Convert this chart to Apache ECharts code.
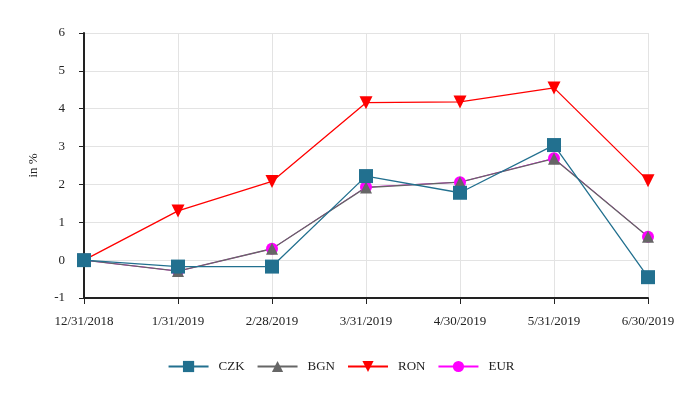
<!DOCTYPE html>
<html><head><meta charset="utf-8">
<script src="https://cdn.jsdelivr.net/npm/echarts@6/dist/echarts.min.js"></script>
<style>html,body{margin:0;padding:0;background:#fff}#c{width:682px;height:400px}</style>
</head><body><div id="c"></div>
<script>
const categories = ['12/31/2018','1/31/2019','2/28/2019','3/31/2019','4/30/2019','5/31/2019','6/30/2019'];
const czk = [0, -0.17, -0.17, 2.22, 1.78, 3.04, -0.45];
const bgn = [0, -0.29, 0.30, 1.92, 2.06, 2.68, 0.62];
const ron = [0, 1.30, 2.08, 4.16, 4.18, 4.55, 2.10];
const eur = [0, -0.29, 0.30, 1.93, 2.06, 2.69, 0.62];
const yTicks = [-1, 0, 1, 2, 3, 4, 5, 6];

const font = 'Liberation Serif';
const chart = echarts.init(document.getElementById('c'));
function s(name, data, color, symbol, size, lw){
  return {name, type:'line', data, symbol, symbolSize:size,
    lineStyle:{color, width:lw}, itemStyle:{color}, emphasis:{disabled:true}};
}
chart.setOption({
  animation:false,
  grid:{left:84, right:34, top:33, bottom:102},
  legend:{top:355, left:'center', itemWidth:40, itemHeight:14, itemGap:12,
    textStyle:{fontFamily:font, fontSize:13, color:'#222', padding:[0,0,0,5]},
    data:['CZK','BGN','RON','EUR']},
  xAxis:{type:'category', data:categories, boundaryGap:false,
    axisLine:{onZero:false, lineStyle:{color:'#222', width:2}},
    axisTick:{show:true, length:6, lineStyle:{color:'#222'}},
    axisLabel:{fontFamily:font, fontSize:13, color:'#222', margin:17},
    splitLine:{show:true, lineStyle:{color:'#e3e3e3'}}},
  yAxis:{type:'value', min:-1, max:6, interval:1, name:'in %', nameLocation:'middle', nameGap:44,
    nameTextStyle:{fontFamily:font, fontSize:13, color:'#222'},
    axisLine:{show:true, lineStyle:{color:'#222', width:2}},
    axisTick:{show:true, length:5, lineStyle:{color:'#222'}},
    axisLabel:{fontFamily:font, fontSize:13, color:'#222', margin:19,
      formatter:v => yTicks.includes(v) ? String(v) : ''},
    splitLine:{show:true, lineStyle:{color:'#e3e3e3'}}},
  series:[
    s('EUR', eur, '#ff00ff', 'circle', 12, 1),
    s('RON', ron, '#ff0000', 'path://M0,0 L10,0 L5,9 Z', 13, 1.3),
    s('BGN', bgn, '#666666', 'triangle', 12, 1.4),
    s('CZK', czk, '#22708f', 'rect', 14, 1.3)
  ]
});
</script></body></html>
